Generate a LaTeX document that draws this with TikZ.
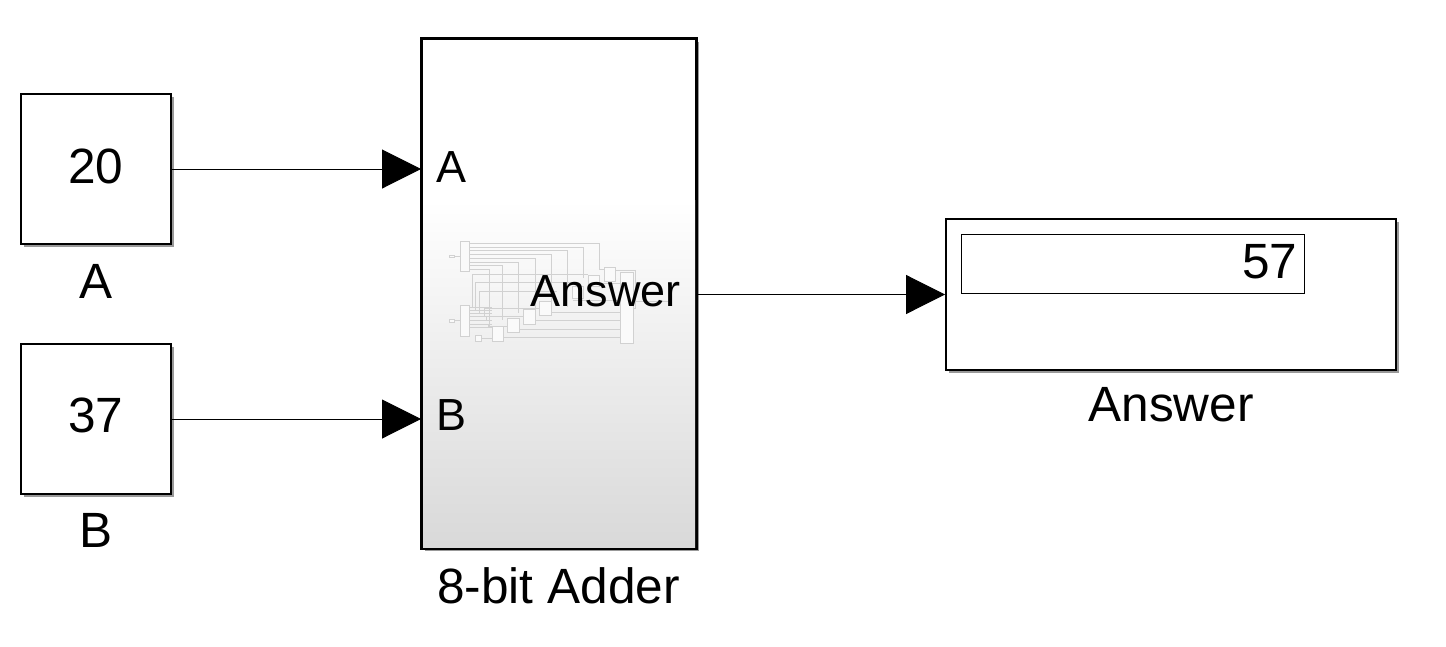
\documentclass[tikz,border=0pt]{standalone}
\usepackage{fontspec}
\setmainfont{Liberation Sans}
\usetikzlibrary{positioning}
\usetikzlibrary{shadows}
\usetikzlibrary{arrows.meta}
\definecolor{thumbColor}{gray}{0.82}
\definecolor{thumbFill}{gray}{0.98}
\begin{document}
\begin{tikzpicture}[x=0.02cm,y=-0.02cm]

            \tikzstyle{blockFrame} = [draw, line width=1.15pt, fill=white, inner sep=0pt,
                                      drop shadow={shadow xshift=1.6pt, shadow yshift=-1.6pt, fill=black, opacity=0.4}];
            \tikzstyle{bigText} = [font=\fontsize{28.2}{30}\selectfont, inner sep=0pt];
            \tikzstyle{portText} = [font=\fontsize{25.6}{28}\selectfont, inner sep=0pt];
            \tikzstyle{signalEdge} = [line width=0.55pt, -{Triangle[length=0.78cm, width=0.78cm]}];
            \tikzstyle{thumbEdge} = [thumbColor, line width=0.4pt];
            \tikzstyle{thumbBox} = [draw=thumbColor, fill=thumbFill, line width=0.4pt];

            \useasboundingbox (0,0) rectangle (1446,646);

            % source blocks
            \node[blockFrame, minimum width=3cm, minimum height=3cm] (blockA) at (96,169) {};
            \node[blockFrame, minimum width=3cm, minimum height=3cm] (blockB) at (96,419) {};
            \node[bigText] (valueA) at (96,166) {20};
            \node[bigText] (valueB) at (96,415) {37};
            \node[bigText] (labelA) at (96,281.5) {A};
            \node[bigText] (labelB) at (96,530) {B};

            % adder block
            \node[blockFrame, minimum width=5.48cm, minimum height=10.18cm] (adder) at (559,293.5) {};
            \shade[top color=white, bottom color=black!15] (423,200) rectangle (695,547);
            \draw[line width=1.15pt] (adder.north west) rectangle (adder.south east);

            % thumbnail of the subsystem
            \begin{scope}[shift={(430,220)}, x=0.00667cm, y=-0.00667cm]
              \foreach \ya/\xa/\yb in {70/508/148, 81/460/175, 92/413/262, 103/364/262,
                                       115/315/270, 126/265/278, 137/217/300, 148/178/320}
                \draw[thumbEdge] (119,\ya) -- (\xa,\ya) -- (\xa,\yb);
              \foreach \xa/\ya/\yb/\xb in {127/262/163/475, 137/270/187/428, 148/280/213/380,
                                           162/290/265/330, 170/300/290/281, 175/315/318/233}
                \draw[thumbEdge] (\xa,\ya) -- (\xa,\yb) -- (\xb,\yb);
              \foreach \ya in {262,270,280,290,300,312,322}
                \draw[thumbEdge] (119,\ya) -- (187,\ya);
              \foreach \xa/\ya in {220/352, 268/328, 316/302, 364/277, 428/240, 508/190}
                \draw[thumbEdge] (\xa,\ya) -- (571,\ya);
              \draw[thumbEdge] (74,109) -- (91,109);
              \draw[thumbEdge] (74,302) -- (91,302);
              \draw[thumbEdge] (154,355) -- (187,355);
              \draw[thumbEdge] (508,148) -- (523,148);
              \draw[thumbEdge] (556,152) -- (616,152) -- (616,265) -- (610,265);
              \draw[thumbEdge] (610,243) -- (715,243);
              \foreach \xa/\ya/\xb/\yb in {91/64/119/155, 91/256/119/349, 58/106/74/112, 58/298/74/306,
                                           136/347/154/364, 187/320/220/364, 233/296/268/337,
                                           281/269/316/312, 329/245/364/286, 428/200/460/235,
                                           475/165/508/200, 523/142/556/183, 571/157/610/370}
                \draw[thumbBox] (\xa,\ya) rectangle (\xb,\yb);
            \end{scope}

            \node[portText] (portA) at (451.5,167) {A};
            \node[portText] (portB) at (451.5,415) {B};
            \node[portText, anchor=east] (portAnswer) at (681,291) {Answer};
            \node[bigText] (labelAdder) at (558.5,586) {8-bit Adder};

            % display block
            \node[blockFrame, minimum width=9cm, minimum height=3.02cm] (display) at (1171,294.5) {};
            \node[draw, line width=0.45pt, minimum width=6.86cm, minimum height=1.18cm, inner sep=0pt] (readout) at (1132.5,263.5) {};
            \node[bigText, anchor=east] (valueAnswer) at (1297.5,262) {57};
            \node[bigText] (labelAnswer) at (1171,405) {Answer};

            % signals
            \draw[signalEdge] (blockA.east) -- (adder.west |- blockA.east);
            \draw[signalEdge] (blockB.east) -- (adder.west |- blockB.east);
            \draw[signalEdge] (adder.east |- display.west) -- (display.west);
          \end{tikzpicture}
\end{document}
